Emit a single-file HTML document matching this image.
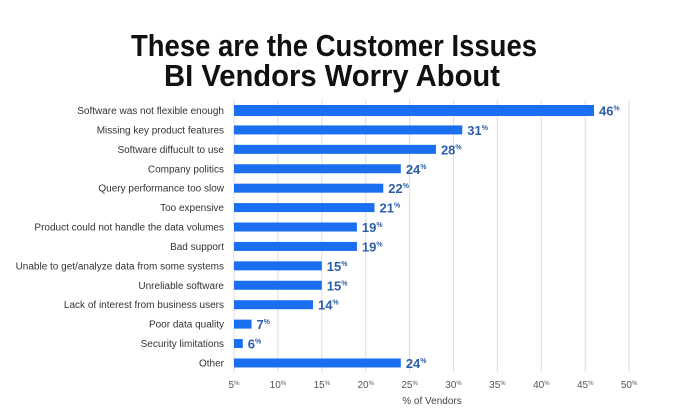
<!DOCTYPE html>
<html><head><meta charset="utf-8"><style>
html,body{margin:0;padding:0;background:#fff;}
svg{display:block;font-family:"Liberation Sans",sans-serif;}
</style></head><body>
<svg id="chart" width="675" height="410" viewBox="0 0 675 410">
<text x="334" y="56" text-anchor="middle" font-size="31" font-weight="bold" textLength="406" lengthAdjust="spacingAndGlyphs" fill="#111">These are the Customer Issues</text>
<text x="332" y="86" text-anchor="middle" font-size="31" font-weight="bold" textLength="336" lengthAdjust="spacingAndGlyphs" fill="#111">BI Vendors Worry About</text>
<g id="grid"></g><g id="bars"></g><g id="labels"></g><g id="ticks"></g>
<text x="432" y="404" text-anchor="middle" font-size="10" fill="#444">% of Vendors</text>
</svg>
<script>
const categories=["Software was not flexible enough","Missing key product features","Software diffucult to use","Company politics","Query performance too slow","Too expensive","Product could not handle the data volumes","Bad support","Unable to get/analyze data from some systems","Unreliable software","Lack of interest from business users","Poor data quality","Security limitations","Other"];
const values=[46,31,28,24,22,21,19,19,15,15,14,7,6,24];
const tickValues=[5,10,15,20,25,30,35,40,45,50];
const NS="http://www.w3.org/2000/svg";
const x0=234,pxPer=8.78,y0=110.5,step=19.42;
const xs=v=>x0+(v-5)*pxPer;
const ys=i=>y0+i*step;
function mk(tag,attrs,parent){const e=document.createElementNS(NS,tag);for(const k in attrs)e.setAttribute(k,attrs[k]);document.getElementById(parent).appendChild(e);return e;}
tickValues.forEach(t=>{
  const l=mk('line',{x1:xs(t),x2:xs(t),y1:100,y2:372,stroke:'#ddd','stroke-width':1},'grid');
  
  
  const tx=mk('text',{x:xs(t),y:388,'text-anchor':'middle','font-size':'10',fill:'#555'},'ticks');
  
  
  tx.innerHTML=t+'<tspan font-size="6" dy="-3">%</tspan>';
});
categories.forEach((c,i)=>{
  const h=i===0?11:9;
  const r=mk('rect',{x:x0,y:ys(i)-h/2,width:xs(values[i])-x0,height:h,fill:'#1a6ef0'},'bars');
  
  
  const lb=mk('text',{x:224,y:ys(i)+3.5,'text-anchor':'end','font-size':'10',fill:'#333'},'labels');
  
  
  lb.textContent=c;
  const vl=mk('text',{x:xs(values[i])+5,y:ys(i)+5,'font-size':'13','font-weight':'bold',fill:'#2d5fa8'},'labels');
  
  
  vl.innerHTML=values[i]+'<tspan font-size="7" dy="-5">%</tspan>';
});
</script>
</body></html>
